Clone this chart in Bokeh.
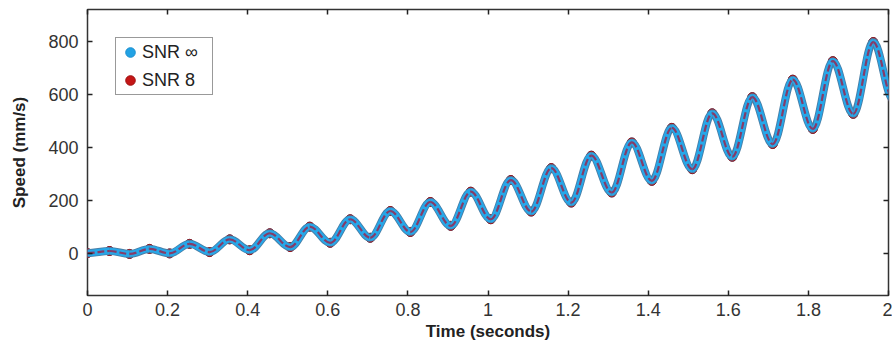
from bokeh.plotting import figure
from bokeh.models import (Range1d, LinearAxis, FixedTicker, NumeralTickFormatter,
                          Legend, LegendItem, ColumnDataSource)
from bokeh.embed import file_html
from bokeh.resources import INLINE

# ---- data ----
# times (s) and speeds (mm/s) of the troughs and peaks of the oscillating speed
trough_t = [0.0, 0.105, 0.205, 0.305, 0.405, 0.506, 0.606, 0.706, 0.806, 0.907, 1.007,
            1.108, 1.208, 1.309, 1.409, 1.510, 1.610, 1.711, 1.811, 1.912, 2.012]
trough_v = [0, -3, -1, 4, 11, 23, 39, 58, 80, 103, 128,
            157, 191, 229, 273, 317, 364, 412, 469, 526, 580]
peak_t = [0.055, 0.155, 0.255, 0.355, 0.455, 0.555, 0.656, 0.756, 0.856, 0.957,
          1.057, 1.158, 1.258, 1.359, 1.459, 1.560, 1.660, 1.761, 1.861, 1.962]
peak_v = [8, 16, 35, 52, 75, 100, 128, 159, 193, 232,
          276, 321, 368, 418, 473, 528, 589, 655, 725, 797]
# SNR 8 trace is visually identical to the noiseless one
snr8_trough_v = list(trough_v)
snr8_peak_v = list(peak_v)

x_ticks = [0, 0.2, 0.4, 0.6, 0.8, 1.0, 1.2, 1.4, 1.6, 1.8, 2.0]
y_ticks = [0, 200, 400, 600, 800]
series_names = ["SNR \u221e", "SNR 8"]


def segments(tt, tv, pt, pv, k=0.3642):
    xs, ys = [], []
    for i in range(len(pt)):
        xs += [tt[i], pt[i]]
        ys += [tv[i], pv[i]]
    xs.append(tt[len(pt)])
    ys.append(tv[len(pt)])
    d = dict(x0=[], y0=[], x1=[], y1=[], cx0=[], cy0=[], cx1=[], cy1=[])
    for a in range(len(xs) - 1):
        dx = xs[a + 1] - xs[a]
        d["x0"].append(xs[a]); d["y0"].append(ys[a])
        d["x1"].append(xs[a + 1]); d["y1"].append(ys[a + 1])
        d["cx0"].append(xs[a] + k * dx); d["cy0"].append(ys[a])
        d["cx1"].append(xs[a + 1] - k * dx); d["cy1"].append(ys[a + 1])
    return ColumnDataSource(d), ColumnDataSource(dict(x=xs, y=ys))


src_inf, pts_inf = segments(trough_t, trough_v, peak_t, peak_v)
src_8, pts_8 = segments(trough_t, snr8_trough_v, peak_t, snr8_peak_v)

p = figure(width=892, height=343, output_backend="svg", toolbar_location=None,
           x_range=Range1d(0, 2), y_range=Range1d(-160, 920),
           min_border_left=87, min_border_right=4, min_border_top=9, min_border_bottom=10)
p.grid.visible = False
p.outline_line_color = "#333333"
p.outline_line_width = 1.5
p.background_fill_color = "white"

# sample markers (under the traces, also used for the legend)
r_inf = p.scatter("x", "y", source=pts_inf, marker="circle", size=9,
                  fill_color="#22a2e4", line_color="#1b8fd0")
r_8 = p.scatter("x", "y", source=pts_8, marker="circle", size=9,
                fill_color="#c41616", line_color="#a01010")

bz = dict(x0="x0", y0="y0", x1="x1", y1="y1", cx0="cx0", cy0="cy0", cx1="cx1", cy1="cy1")
p.bezier(source=src_inf, line_color="#4a7ea6", line_width=8, **bz)
p.bezier(source=src_inf, line_color="#27a7e8", line_width=6.3, **bz)
p.bezier(source=src_8, line_color="#9c2248", line_width=2.2, line_dash="7 3", line_alpha=0.8, **bz)

legend = Legend(items=[LegendItem(label=series_names[0], renderers=[r_inf]),
                       LegendItem(label=series_names[1], renderers=[r_8])],
                location=(28, 200), border_line_color="#333333", border_line_width=1.5,
                label_text_font="Liberation Sans", label_text_font_size="18px",
                label_text_color="#222222", glyph_width=24, glyph_height=24,
                label_standoff=0, padding=2, spacing=4, margin=0,
                label_height=24, label_width=68, background_fill_alpha=1)
p.add_layout(legend, "center")

font = "Liberation Sans"
for ax in (p.xaxis[0], p.yaxis[0]):
    ax.axis_line_color = None
    ax.major_tick_in = 5
    ax.major_tick_out = 0
    ax.minor_tick_line_color = None
    ax.major_tick_line_color = "#222222"
    ax.major_tick_line_width = 1.5
    ax.major_label_text_font = font
    ax.major_label_text_font_size = "18px"
    ax.major_label_text_color = "#333333"
    ax.axis_label_text_font = font
    ax.axis_label_text_font_style = "bold"
    ax.axis_label_text_font_size = "17px"
    ax.axis_label_text_color = "#222222"

p.xaxis[0].ticker = FixedTicker(ticks=x_ticks)
p.xaxis[0].formatter = NumeralTickFormatter(format="0.[0]")
p.xaxis[0].axis_label = "Time (seconds)"
p.xaxis[0].major_label_standoff = 7
p.xaxis[0].axis_label_standoff = 3
p.yaxis[0].ticker = FixedTicker(ticks=y_ticks)
p.yaxis[0].axis_label = "Speed (mm/s)"
p.yaxis[0].major_label_standoff = 9
p.yaxis[0].axis_label_standoff = 16

top = LinearAxis(ticker=FixedTicker(ticks=x_ticks), major_label_text_font_size="0px",
                 axis_line_color=None, major_tick_in=5, major_tick_out=0,
                 minor_tick_line_color=None, major_tick_line_width=1.5,
                 major_tick_line_color="#222222", major_label_standoff=0)
right = LinearAxis(ticker=FixedTicker(ticks=y_ticks), major_label_text_font_size="0px",
                   axis_line_color=None, major_tick_in=5, major_tick_out=0,
                   minor_tick_line_color=None, major_tick_line_width=1.5,
                   major_tick_line_color="#222222", major_label_standoff=0)
p.add_layout(top, "above")
p.add_layout(right, "right")

open("out.html", "w").write(file_html(p, INLINE))
